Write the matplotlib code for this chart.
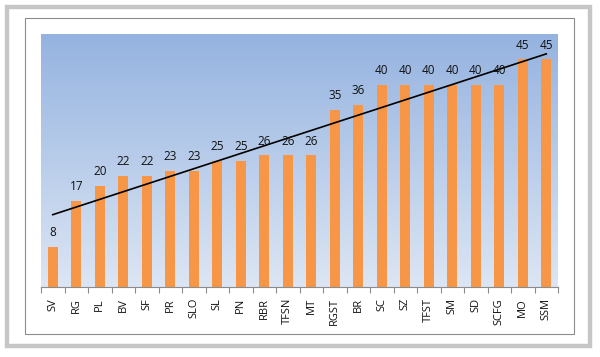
import numpy as np
import matplotlib.pyplot as plt
from matplotlib.patches import Rectangle
from matplotlib.colors import LinearSegmentedColormap

plt.rcParams['font.family'] = ['Open Sans', 'DejaVu Sans']

labels = ['SV', 'RG', 'PL', 'BV', 'SF', 'PR', 'SLO', 'SL', 'PN', 'RBR', 'TFSN',
          'MT', 'RGST', 'BR', 'SC', 'SZ', 'TFST', 'SM', 'SD', 'SCFG', 'MO', 'SSM']
values = [8, 17, 20, 22, 22, 23, 23, 25, 25, 26, 26,
          26, 35, 36, 40, 40, 40, 40, 40, 40, 45, 45]

W, H = 600, 357
fig = plt.figure(figsize=(6, 3.57), dpi=100)
fig.patch.set_facecolor('white')

# outer grey frame and inner chart border
fig.patches.append(Rectangle((7 / W, 1 - 346 / H), 583 / W, 339 / H, transform=fig.transFigure,
                             fill=False, edgecolor='#c6c6c6', linewidth=3.2, zorder=0))
fig.patches.append(Rectangle((25 / W, 1 - 334 / H), 549 / W, 316 / H, transform=fig.transFigure,
                             fill=False, edgecolor='#8c8c8c', linewidth=0.8, zorder=1))

ax = fig.add_axes([41 / W, 1 - 287 / H, 517 / W, 253 / H])
x = np.arange(len(labels))

# gradient background
cmap = LinearSegmentedColormap.from_list('bg', ['#dce6f4', '#95b3e0'])
grad = np.linspace(0, 1, 256).reshape(-1, 1)
ax.imshow(grad, cmap=cmap, aspect='auto', origin='lower',
          extent=[-0.5, len(labels) - 0.5, 0, 50], zorder=0)

ax.bar(x, values, width=0.42, color='#f79646', zorder=2)
for xi, v in zip(x, values):
    ax.text(xi, v + 1.5, str(v), ha='center', va='bottom', fontsize=8.5, color='#111111', zorder=4)

# linear trend line
k, b = np.polyfit(x, values, 1)
ax.plot([x[0], x[-1]], [b, k * x[-1] + b], color='black', linewidth=1.2, zorder=3)

ax.set_xlim(-0.5, len(labels) - 0.5)
ax.set_ylim(0, 50)
ax.set_xticks(x)
ax.set_xticklabels(labels, rotation=90, fontsize=8, color='#111111')
ax.set_xticks(np.arange(-0.5, len(labels), 1), minor=True)
ax.tick_params(axis='x', which='major', length=0, pad=8)
ax.tick_params(axis='x', which='minor', length=4, color='#8c8c8c', width=0.8)
ax.set_yticks([])
for s in ['top', 'right', 'left']:
    ax.spines[s].set_visible(False)
ax.spines['bottom'].set_color('#8c8c8c')
ax.spines['bottom'].set_linewidth(0.8)

fig.savefig('out.png', dpi=100)
